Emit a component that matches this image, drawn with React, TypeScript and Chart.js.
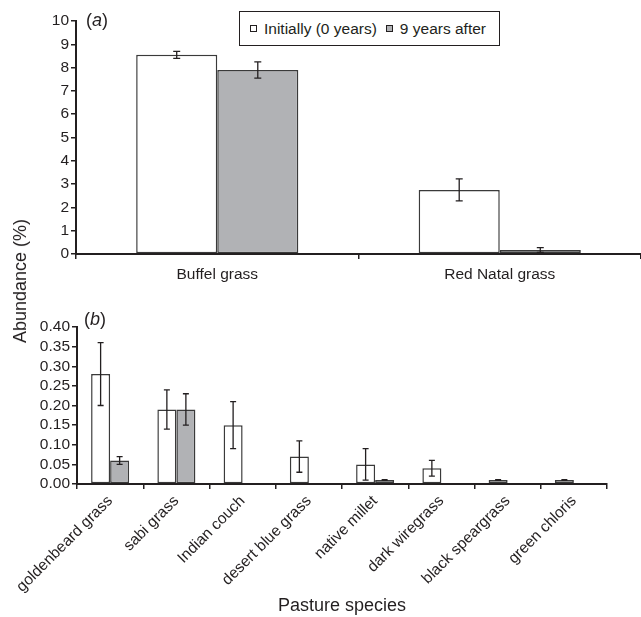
import React, { useEffect, useRef } from "react";
import { Chart, registerables } from "chart.js";

Chart.register(...registerables);

// ---------- data ----------
const seriesLabels = ["Initially (0 years)", "9 years after"];

const topCategories = ["Buffel grass", "Red Natal grass"];
const topInitial = [8.55, 2.75];
const topInitialErr = [0.15, 0.47];
const topAfter = [7.9, 0.17];
const topAfterErr = [0.35, 0.1];

const bottomCategories = [
  "goldenbeard grass",
  "sabi grass",
  "Indian couch",
  "desert blue grass",
  "native millet",
  "dark wiregrass",
  "black speargrass",
  "green chloris",
];
const bottomInitial = [0.28, 0.19, 0.15, 0.07, 0.05, 0.04, 0.01, 0.01];
const bottomInitialErr = [0.08, 0.05, 0.06, 0.04, 0.04, 0.02, 0.001, 0.001];
const bottomAfter = [0.06, 0.19, 0, 0, 0.01, 0, 0, 0];
const bottomAfterErr = [0.01, 0.04, 0, 0, 0.001, 0, 0, 0];

// ---------- styles ----------
const FONT = "'Liberation Sans', Arial, Helvetica, sans-serif";
const INK = "#231f20";
const GRAY = "#b1b2b5";
const BAR_EDGE = "#3a3a3a";

const errorBarPlugin = {
  id: "errorBars",
  afterDatasetsDraw(chart: any, _args: any, opts: any) {
    const ctx = chart.ctx;
    const yScale = chart.scales.y;
    const cap = (opts && opts.cap) || 3;
    chart.data.datasets.forEach((ds: any, di: number) => {
      const errs = ds.errors;
      if (!errs) return;
      const meta = chart.getDatasetMeta(di);
      meta.data.forEach((bar: any, i: number) => {
        const v = ds.data[i];
        const e = errs[i];
        if (v == null || !e) return;
        const x = bar.x;
        const yt = yScale.getPixelForValue(v + e);
        const yb = yScale.getPixelForValue(Math.max(v - e, 0));
        ctx.save();
        ctx.strokeStyle = INK;
        ctx.lineWidth = 1.3;
        ctx.beginPath();
        ctx.moveTo(x, yt);
        ctx.lineTo(x, yb);
        ctx.moveTo(x - cap, yt);
        ctx.lineTo(x + cap, yt);
        ctx.moveTo(x - cap, yb);
        ctx.lineTo(x + cap, yb);
        ctx.stroke();
        ctx.restore();
      });
    });
  },
};

function makeDatasets(initial: number[], initialErr: number[], after: number[], afterErr: number[]) {
  const common = {
    borderColor: BAR_EDGE,
    borderWidth: 1.5,
    borderSkipped: false,
    categoryPercentage: 0.574,
    barPercentage: 1,
  };
  return [
    { label: seriesLabels[0], data: initial, errors: initialErr, backgroundColor: "#ffffff", ...common },
    { label: seriesLabels[1], data: after, errors: afterErr, backgroundColor: GRAY, ...common },
  ];
}

function TopChart() {
  const ref = useRef<HTMLCanvasElement | null>(null);
  useEffect(() => {
    if (!ref.current) return;
    const chart = new Chart(ref.current, {
      type: "bar",
      data: {
        labels: topCategories,
        datasets: makeDatasets(topInitial, topInitialErr, topAfter, topAfterErr) as any,
      },
      plugins: [errorBarPlugin],
      options: {
        responsive: false,
        animation: false,
        devicePixelRatio: 1,
        layout: { padding: { top: 21, left: 0, right: 0, bottom: 0 } },
        plugins: {
          legend: { display: false },
          tooltip: { enabled: false },
          errorBars: { cap: 3.5 },
        } as any,
        scales: {
          x: {
            afterFit: (s: any) => {
              s.height = 36;
            },
            grid: {
              display: true,
              drawOnChartArea: false,
              drawTicks: true,
              tickLength: 5,
              color: INK,
              lineWidth: 1.5,
            },
            border: { display: true, color: INK, width: 2 },
            ticks: { color: INK, font: { family: FONT, size: 15.5 }, padding: 6, maxRotation: 0 },
          },
          y: {
            min: 0,
            max: 10,
            afterFit: (s: any) => {
              s.width = 76;
            },
            grid: {
              display: true,
              drawOnChartArea: false,
              drawTicks: true,
              tickLength: 5,
              color: INK,
              lineWidth: 1.5,
            },
            border: { display: true, color: INK, width: 2 },
            ticks: { stepSize: 1, autoSkip: false, color: INK, font: { family: FONT, size: 15.5 }, padding: 2 },
          },
        },
      } as any,
    });
    return () => chart.destroy();
  }, []);
  return <canvas ref={ref} width={641} height={290} style={{ display: "block" }} />;
}

function BottomChart() {
  const ref = useRef<HTMLCanvasElement | null>(null);
  useEffect(() => {
    if (!ref.current) return;
    const chart = new Chart(ref.current, {
      type: "bar",
      data: {
        labels: bottomCategories,
        datasets: makeDatasets(bottomInitial, bottomInitialErr, bottomAfter, bottomAfterErr) as any,
      },
      plugins: [errorBarPlugin],
      options: {
        responsive: false,
        animation: false,
        devicePixelRatio: 1,
        layout: { padding: { top: 37, left: 0, right: 34, bottom: 0 } },
        plugins: {
          legend: { display: false },
          tooltip: { enabled: false },
          errorBars: { cap: 3 },
        } as any,
        scales: {
          x: {
            afterFit: (s: any) => {
              s.height = 133;
            },
            grid: {
              display: true,
              drawOnChartArea: false,
              drawTicks: true,
              tickLength: 5,
              color: INK,
              lineWidth: 1.5,
            },
            border: { display: true, color: INK, width: 2 },
            ticks: {
              color: INK,
              font: { family: FONT, size: 15.5 },
              padding: 3,
              minRotation: 45,
              maxRotation: 45,
              autoSkip: false,
            },
            title: {
              display: true,
              text: "Pasture species",
              color: INK,
              font: { family: FONT, size: 18 },
              padding: { top: 1, bottom: 0 },
            },
          },
          y: {
            min: 0,
            max: 0.4,
            afterFit: (s: any) => {
              s.width = 77;
            },
            grid: {
              display: true,
              drawOnChartArea: false,
              drawTicks: true,
              tickLength: 5,
              color: INK,
              lineWidth: 1.5,
            },
            border: { display: true, color: INK, width: 2 },
            ticks: {
              stepSize: 0.05,
              autoSkip: false,
              color: INK,
              font: { family: FONT, size: 15.5 },
              padding: 2,
              callback: (v: any) => Number(v).toFixed(2),
            },
          },
        },
      } as any,
    });
    return () => chart.destroy();
  }, []);
  return <canvas ref={ref} width={641} height={327} style={{ display: "block" }} />;
}

function LegendBox() {
  const sq = (bg: string) => (
    <span
      style={{
        display: "inline-block",
        width: 7,
        height: 7,
        border: `1px solid ${INK}`,
        background: bg,
        marginRight: 7,
        boxSizing: "border-box",
      }}
    />
  );
  return (
    <div
      style={{
        position: "absolute",
        left: 239,
        top: 11,
        width: 261,
        height: 35,
        border: `1.5px solid ${INK}`,
        boxSizing: "border-box",
        display: "flex",
        alignItems: "center",
        paddingLeft: 10,
        fontFamily: FONT,
        fontSize: 15.5,
        color: INK,
        background: "#fff",
        whiteSpace: "nowrap",
      }}
    >
      {sq("#fff")}
      <span style={{ marginRight: 9 }}>{seriesLabels[0]}</span>
      {sq(GRAY)}
      <span>{seriesLabels[1]}</span>
    </div>
  );
}

export default function App() {
  return (
    <div
      style={{
        position: "absolute",
        left: 0,
        top: 0,
        width: 641,
        height: 617,
        background: "#fff",
        overflow: "hidden",
      }}
    >
      <div style={{ position: "absolute", left: 0, top: 0 }}>
        <TopChart />
      </div>
      <div style={{ position: "absolute", left: 0, top: 290 }}>
        <BottomChart />
      </div>
      <LegendBox />
      <div
        style={{
          position: "absolute",
          left: 86,
          top: 9,
          fontFamily: FONT,
          fontSize: 18,
          color: INK,
          lineHeight: "22px",
        }}
      >
        (<i>a</i>)
      </div>
      <div
        style={{
          position: "absolute",
          left: 84,
          top: 308,
          fontFamily: FONT,
          fontSize: 18,
          color: INK,
          lineHeight: "22px",
        }}
      >
        (<i>b</i>)
      </div>
      <div
        style={{
          position: "absolute",
          left: 20,
          top: 281,
          transform: "translate(-50%, -50%) rotate(-90deg)",
          fontFamily: FONT,
          fontSize: 18,
          color: INK,
          whiteSpace: "nowrap",
          lineHeight: "22px",
        }}
      >
        Abundance (%)
      </div>
    </div>
  );
}
